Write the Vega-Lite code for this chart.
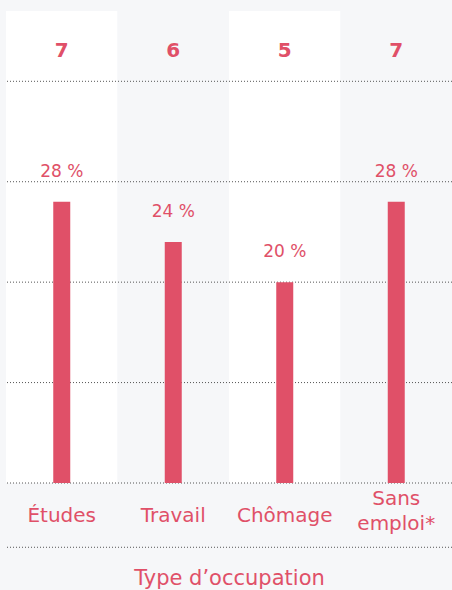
{
  "$schema": "https://vega.github.io/schema/vega-lite/v6.json",
  "width": 446,
  "height": 472,
  "autosize": {"type": "none"},
  "padding": {"left": 6, "top": 11, "right": 0, "bottom": 107},
  "background": "#f6f7f9",
  "config": {"view": {"stroke": null}, "font": "DejaVu Sans"},
  "datasets": {
    "occ": [
      {"type": "Études", "n": 7, "pct": 28, "label": "28 %"},
      {"type": "Travail", "n": 6, "pct": 24, "label": "24 %"},
      {"type": "Chômage", "n": 5, "pct": 20, "label": "20 %"},
      {"type": "Sans emploi*", "n": 7, "pct": 28, "label": "28 %"}
    ],
    "grid": [{"v": 0}, {"v": 10}, {"v": 20}, {"v": 30}, {"v": 40}, {"v": -6.4}]
  },
  "data": {"name": "occ"},
  "encoding": {
    "x": {
      "field": "type",
      "type": "nominal",
      "sort": null,
      "scale": {"paddingInner": 0, "paddingOuter": 0},
      "axis": {
        "title": "Type d’occupation",
        "titleFont": "DejaVu Sans",
        "titleFontSize": 21,
        "titleFontWeight": "normal",
        "titleColor": "#e05068",
        "titlePadding": 34,
        "labelAngle": 0,
        "labelFontSize": 20,
        "labelColor": "#e05068",
        "labelBaseline": "middle",
        "labelPadding": {"condition": {"test": "datum.value == 'Sans emploi*'", "value": 15}, "value": 32},
        "labelLineHeight": 25,
        "labelExpr": "datum.value == 'Sans emploi*' ? ['Sans', 'emploi*'] : datum.value",
        "domain": false,
        "ticks": false,
        "tickSize": 0
      }
    }
  },
  "layer": [
    {
      "mark": {"type": "bar"},
      "encoding": {
        "y": {"datum": 47, "type": "quantitative", "scale": {"domain": [0, 47], "nice": false, "zero": true}, "axis": null},
        "y2": {"datum": 0},
        "color": {
          "field": "type",
          "type": "nominal",
          "sort": null,
          "scale": {"domain": ["Études", "Travail", "Chômage", "Sans emploi*"], "range": ["#ffffff", "#f6f7f9", "#ffffff", "#f6f7f9"]},
          "legend": null
        }
      }
    },
    {
      "data": {"name": "grid"},
      "mark": {"type": "rule", "stroke": "#555555", "strokeDash": [1, 2], "strokeWidth": 1},
      "encoding": {
        "x": null,
        "y": {"field": "v", "type": "quantitative"}
      }
    },
    {
      "mark": {"type": "bar", "width": 17, "color": "#e05068"},
      "encoding": {
        "y": {"field": "pct", "type": "quantitative"}
      }
    },
    {
      "mark": {"type": "text", "color": "#e05068", "fontSize": 17, "baseline": "bottom", "dy": -21},
      "encoding": {
        "y": {"field": "pct", "type": "quantitative"},
        "text": {"field": "label"}
      }
    },
    {
      "mark": {"type": "text", "color": "#e05068", "fontSize": 20, "fontWeight": "bold", "baseline": "middle"},
      "encoding": {
        "y": {"datum": 43},
        "text": {"field": "n"}
      }
    }
  ]
}
